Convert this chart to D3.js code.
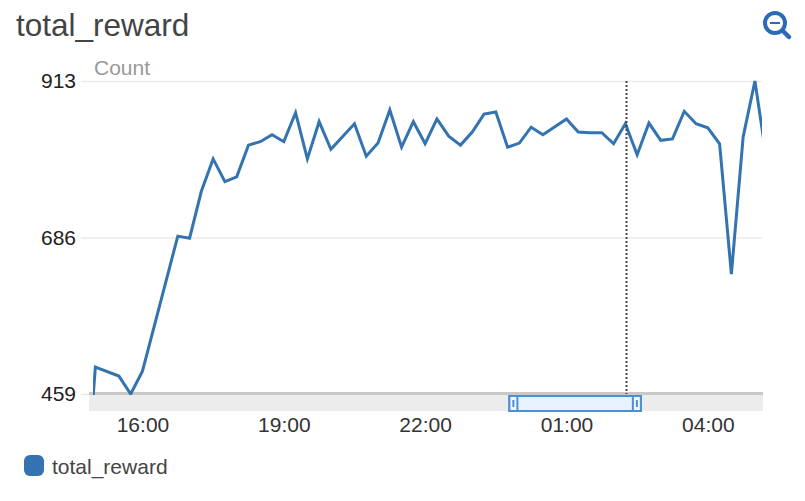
<!DOCTYPE html>
<html>
<head>
<meta charset="utf-8">
<script src="https://cdn.jsdelivr.net/npm/d3@7/dist/d3.min.js"></script>
<style>
html,body{margin:0;padding:0;background:#fff;overflow:hidden}
svg{display:block}
text{font-family:"Liberation Sans",Arial,sans-serif}
</style>
</head>
<body>
<svg id="c" width="805" height="501"></svg>
<script>
const chartTitle = "total_reward";
const unitLabel = "Count";
const times = ["14:45","15:00","15:30","15:45","16:00","16:45","17:00","17:15","17:30","17:45","18:00","18:15","18:30","18:45","19:00","19:15","19:30","19:45","20:00","20:30","20:45","21:00","21:15","21:30","21:45","22:00","22:15","22:30","22:45","23:00","23:15","23:30","23:45","00:00","00:15","00:30","01:00","01:15","01:30","01:45","02:00","02:15","02:30","02:45","03:00","03:15","03:30","03:45","04:00","04:15","04:30","04:45","05:00","05:15"];
const values = [268,498,485,459,492,688,685,753,800,767,774,820,825,835,825,867,800,854,814,851,804,823,871,817,854,822,858,833,820,839,865,868,817,823,846,835,858,839,838,838,822,851,806,852,827,829,869,851,845,822,633,832,913,798];
const yTicks = [459,686,913];
const xTickLabels = ["16:00","19:00","22:00","01:00","04:00"];
const domainTimes = ["14:57","05:09"];
const selectionTimes = ["23:46","02:36"];
const cursorTime = "02:16";

const parse = s => {
  const [h,m] = s.split(":").map(Number);
  return new Date(2020,0,h<12?2:1,h,m);
};

const W=805,H=501,L=93,R=762,T=81,B=394;
const x = d3.scaleTime().domain(domainTimes.map(parse)).range([L,R]);
const y = d3.scaleLinear().domain([459,913]).range([B,T]);
const svg = d3.select("#c");

svg.append("text").attr("x",16).attr("y",36).attr("font-size",31.5).attr("fill","#444").text(chartTitle);
svg.append("text").attr("x",94).attr("y",75).attr("font-size",21).attr("fill","#999").text(unitLabel);

// y axis with grid
const gy = svg.append("g").attr("transform",`translate(81,0)`)
  .call(d3.axisLeft(y).tickValues(yTicks).tickFormat(d3.format("d")).tickSize(-(R-81)).tickPadding(5));
gy.select(".domain").remove();
gy.selectAll("line").attr("stroke","#eaeaea").attr("stroke-width",1.5);
gy.selectAll("text").attr("font-size",21).attr("fill","#222").attr("font-family","Liberation Sans");

// range selector strip
svg.append("rect").attr("x",89).attr("y",B).attr("width",674).attr("height",17).attr("fill","#ececec");
svg.append("rect").attr("x",89).attr("y",B-2).attr("width",674).attr("height",3).attr("fill","#c8c8c8");

// x axis
const gx = svg.append("g").attr("transform",`translate(0,414)`)
  .call(d3.axisBottom(x).tickValues(xTickLabels.map(parse)).tickFormat(d3.timeFormat("%H:%M")).tickSize(0).tickPadding(3));
gx.select(".domain").remove();
gx.selectAll("text").attr("font-size",21).attr("fill","#333").attr("font-family","Liberation Sans");

// line
svg.append("clipPath").attr("id","plot").append("rect").attr("x",L).attr("y",T-1).attr("width",R-L).attr("height",B-T+2);
const line = d3.line().x(d=>x(parse(d.t))).y(d=>y(d.v));
svg.append("path").datum(times.map((t,i)=>({t,v:values[i]})))
  .attr("clip-path","url(#plot)").attr("d",line).attr("fill","none").attr("stroke","#3273b0").attr("stroke-width",3).attr("stroke-linejoin","miter");

// cursor
const cx = Math.round(x(parse(cursorTime)))+0.5;
svg.append("line").attr("x1",cx).attr("x2",cx).attr("y1",T).attr("y2",B).attr("stroke","#444").attr("stroke-width",2).attr("stroke-dasharray","2,2");

// selection brush
const bx0=x(parse(selectionTimes[0])), bx1=x(parse(selectionTimes[1]));
const blue="#4a90d9";
svg.append("rect").attr("x",bx0+1).attr("y",B+2).attr("width",bx1-bx0-2).attr("height",15).attr("fill","#e8f2fc").attr("stroke",blue).attr("stroke-width",2);
[bx0+1,bx1-9].forEach(hx=>{
  svg.append("rect").attr("x",hx).attr("y",B+2).attr("width",8).attr("height",15).attr("fill","#f2f6fb").attr("stroke",blue).attr("stroke-width",2);
  svg.append("rect").attr("x",hx+3).attr("y",B+6).attr("width",2).attr("height",7).attr("fill",blue);
});

// zoom icon
const icon = svg.append("g").attr("fill","none").attr("stroke","#2a6ab8");
icon.append("circle").attr("cx",775).attr("cy",23).attr("r",10).attr("stroke-width",4);
icon.append("line").attr("x1",770).attr("x2",780).attr("y1",23).attr("y2",23).attr("stroke-width",2);
icon.append("line").attr("x1",783).attr("y1",31).attr("x2",789).attr("y2",37).attr("stroke-width",4.5).attr("stroke-linecap","round");

// legend
svg.append("rect").attr("x",24).attr("y",455).attr("width",20).attr("height",21).attr("rx",6).attr("fill","#3273b0");
svg.append("text").attr("x",52).attr("y",474).attr("font-size",21).attr("fill","#444").text(chartTitle);
</script>
</body>
</html>
